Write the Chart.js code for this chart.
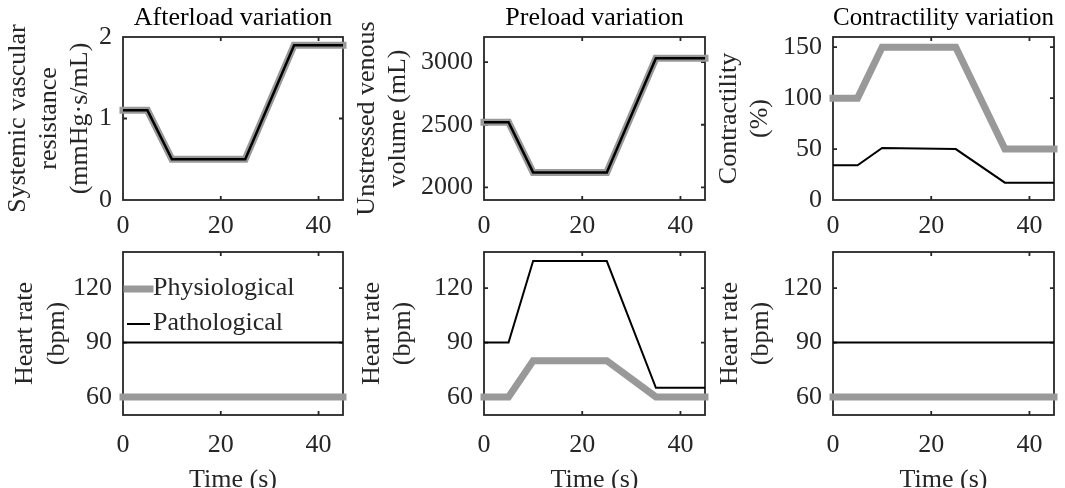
<!DOCTYPE html>
<html><head><meta charset="utf-8">
<script src="https://cdn.jsdelivr.net/npm/chart.js@4"></script>
<style>
html,body{margin:0;padding:0;width:1065px;height:488px;overflow:hidden;background:#fff;}
canvas{position:absolute;}
</style></head><body>
<script>
// ---------- data ----------
const time = [0, 5, 10, 25, 35, 45];
const xTicks = [0, 20, 40];
const seriesNames = ['Physiological', 'Pathological'];

const svrPhys = [1.1, 1.1, 0.5, 0.5, 1.9, 1.9];
const svrPath = [1.1, 1.1, 0.5, 0.5, 1.9, 1.9];
const svrTicks = [0, 1, 2];

const volPhys = [2520, 2520, 2120, 2120, 3030, 3030];
const volPath = [2520, 2520, 2120, 2120, 3030, 3030];
const volTicks = [2000, 2500, 3000];

const conPhys = [100, 100, 150, 150, 50, 50];
const conPath = [34, 34, 51, 50, 17, 17];
const conTicks = [0, 50, 100, 150];

const hrAfterPhys = [60, 60, 60, 60, 60, 60];
const hrAfterPath = [90, 90, 90, 90, 90, 90];
const hrPrePhys = [60, 60, 80, 80, 60, 60];
const hrPrePath = [90, 90, 135, 135, 65, 65];
const hrConPhys = [60, 60, 60, 60, 60, 60];
const hrConPath = [90, 90, 90, 90, 90, 90];
const hrTicks = [60, 90, 120];

const titles = ['Afterload variation', 'Preload variation', 'Contractility variation'];
const yLabels = [
  ['Systemic vascular', 'resistance', '(mmHg·s/mL)'],
  ['Unstressed venous', 'volume (mL)'],
  ['Contractility', '(%)'],
  ['Heart rate', '(bpm)'],
  ['Heart rate', '(bpm)'],
  ['Heart rate', '(bpm)']
];
const xLabel = 'Time (s)';

// ---------- layout ----------
const FONT = {family: "'Liberation Serif', 'Times New Roman', serif", size: 26, lineHeight: 1.2};
const INK = '#262626';
Chart.defaults.font.family = FONT.family;
Chart.defaults.font.size = 26;
Chart.defaults.color = INK;

const panels = [
  {left:0,   top:0,   w:360, h:240, area:{l:123, r:343, t:37,  b:200}, title:titles[0], ylab:yLabels[0], ymin:0,    ymax:2,    yt:svrTicks, phys:svrPhys,   path:svrPath,   yPad:2.4,  xPad:10.4, pw:2.5},
  {left:345, top:0,   w:370, h:240, area:{l:484, r:705, t:37,  b:200}, title:titles[1], ylab:yLabels[1], ymin:1900, ymax:3200, yt:volTicks, phys:volPhys,   path:volPath,   yPad:6.4,  xPad:10.4, pw:2.5},
  {left:705, top:0,   w:360, h:240, area:{l:833, r:1054,t:37,  b:200}, title:titles[2], ylab:yLabels[2], ymin:0,    ymax:160,  yt:conTicks, phys:conPhys,   path:conPath,   yPad:8.4,  xPad:10.4, pw:2},
  {left:0,   top:240, w:360, h:270, area:{l:123, r:343, t:252, b:415}, title:null,      ylab:yLabels[3], ymin:50,   ymax:140,  yt:hrTicks,  phys:hrAfterPhys, path:hrAfterPath, yPad:9.9, xPad:14.4, pw:2, xlab:xLabel, legend:true},
  {left:345, top:240, w:370, h:270, area:{l:484, r:705, t:252, b:415}, title:null,      ylab:yLabels[4], ymin:50,   ymax:140,  yt:hrTicks,  phys:hrPrePhys,   path:hrPrePath,   yPad:11.4, xPad:14.4, pw:2, xlab:xLabel},
  {left:705, top:240, w:360, h:270, area:{l:833, r:1054,t:252, b:415}, title:null,      ylab:yLabels[5], ymin:50,   ymax:140,  yt:hrTicks,  phys:hrConPhys,   path:hrConPath,   yPad:9.4,  xPad:14.4, pw:2, xlab:xLabel}
];

// ---------- plugins ----------
const matlabAxes = {
  id: 'matlabAxes',
  beforeDatasetsDraw(chart) {
    const {ctx, chartArea: a, scales: {x, y}} = chart;
    ctx.save();
    ctx.strokeStyle = INK;
    ctx.lineWidth = 1.8;
    ctx.strokeRect(a.left, a.top, a.right - a.left, a.bottom - a.top);
    const L = 4;
    ctx.beginPath();
    x.ticks.forEach(t => {
      const px = x.getPixelForValue(t.value);
      if (px <= a.left + 1 || px >= a.right - 1) return;
      ctx.moveTo(px, a.bottom); ctx.lineTo(px, a.bottom - L);
      ctx.moveTo(px, a.top); ctx.lineTo(px, a.top + L);
    });
    y.ticks.forEach(t => {
      const py = y.getPixelForValue(t.value);
      if (py <= a.top + 1 || py >= a.bottom - 1) return;
      ctx.moveTo(a.left, py); ctx.lineTo(a.left + L, py);
      ctx.moveTo(a.right, py); ctx.lineTo(a.right - L, py);
    });
    ctx.stroke();
    ctx.restore();
  }
};

const inAxesLegend = {
  id: 'inAxesLegend',
  afterDatasetsDraw(chart, args, opts) {
    if (!opts || !opts.show) return;
    const {ctx, chartArea: a} = chart;
    ctx.save();
    chart.data.datasets.forEach((ds, i) => {
      const yy = a.top + opts.y0 + i * opts.dy;
      ctx.strokeStyle = ds.borderColor;
      ctx.lineWidth = ds.borderWidth;
      ctx.lineCap = ds.borderCapStyle || 'butt';
      ctx.beginPath();
      ctx.moveTo(a.left + opts.x0, yy);
      ctx.lineTo(a.left + opts.x1, yy);
      ctx.stroke();
      ctx.fillStyle = INK;
      ctx.font = FONT.size + 'px ' + FONT.family;
      ctx.textBaseline = 'middle';
      ctx.textAlign = 'left';
      ctx.fillText(ds.label, a.left + opts.tx, yy - 1);
    });
    ctx.restore();
  }
};

// ---------- build charts ----------
panels.forEach(p => {
  const cv = document.createElement('canvas');
  cv.width = p.w; cv.height = p.h;
  cv.style.left = p.left + 'px'; cv.style.top = p.top + 'px';
  cv.style.width = p.w + 'px'; cv.style.height = p.h + 'px';
  document.body.appendChild(cv);

  const toPts = arr => arr.map((v, i) => ({x: time[i], y: v}));
  const noPad = s => { s.paddingTop = 0; s.paddingBottom = 0; s.paddingLeft = 0; s.paddingRight = 0; };
  const scales = {
    x: {
      type: 'linear', position: 'bottom', min: 0, max: 45,
      afterBuildTicks: s => { s.ticks = xTicks.map(v => ({value: v})); },
      grid: {display: false, drawTicks: false}, border: {display: false},
      ticks: {font: FONT, color: INK, padding: p.xPad, maxRotation: 0, autoSkip: false, callback: v => String(v)},
      title: p.xlab ? {display: true, text: p.xlab, font: FONT, color: INK, padding: {top: 0, bottom: 14}} : {display: false},
      afterFit: s => { s.height = p.top + p.h - p.area.b; noPad(s); }
    },
    y: {
      type: 'linear', position: 'left', min: p.ymin, max: p.ymax,
      afterBuildTicks: s => { s.ticks = p.yt.map(v => ({value: v})); },
      grid: {display: false, drawTicks: false}, border: {display: false},
      ticks: {font: FONT, color: INK, padding: 11, callback: v => String(v)},
      title: {display: true, text: p.ylab, font: FONT, color: INK, padding: {top: p.yPad, bottom: 0}},
      afterFit: s => { s.width = p.area.l - p.left; noPad(s); }
    }
  };
  if (p.title) {
    scales.t = {
      type: 'linear', position: 'top', min: 0, max: 45,
      grid: {display: false, drawTicks: false}, border: {display: false},
      ticks: {display: false},
      title: {display: true, text: p.title, font: FONT, color: '#000', padding: {top: 2.4, bottom: 0}},
      afterFit: s => { s.height = p.area.t - p.top; noPad(s); }
    };
  }
  new Chart(cv, {
    type: 'line',
    data: {
      datasets: [
        {label: seriesNames[0], data: toPts(p.phys), borderColor: '#999999', borderWidth: 7,
         borderCapStyle: 'square', pointRadius: 0, tension: 0, clip: false, order: 1, fill: false},
        {label: seriesNames[1], data: toPts(p.path), borderColor: '#000000', borderWidth: p.pw,
         borderCapStyle: 'butt', pointRadius: 0, tension: 0, clip: false, order: 0, fill: false}
      ]
    },
    options: {
      responsive: false, animation: false, events: [],
      layout: {padding: {left: 0, right: p.left + p.w - p.area.r, top: p.title ? 0 : (p.area.t - p.top), bottom: 0}},
      plugins: {
        legend: {display: false}, tooltip: {enabled: false}, title: {display: false},
        inAxesLegend: {show: !!p.legend, y0: 37, dy: 35, x0: 4, x1: 27, tx: 30}
      },
      scales
    },
    plugins: [matlabAxes, inAxesLegend]
  });
});
</script>
</body></html>
